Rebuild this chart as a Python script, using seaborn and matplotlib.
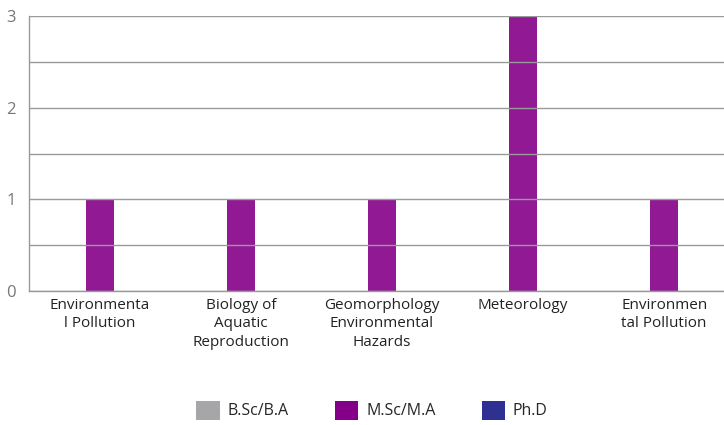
import matplotlib
matplotlib.use("Agg")
import matplotlib.pyplot as plt
import pandas as pd
import seaborn as sns
from matplotlib.patches import Patch

categories = [
    "Environmenta\nl Pollution",
    "Biology of\nAquatic\nReproduction",
    "Geomorphology\nEnvironmental\nHazards",
    "Meteorology",
    "Environmen\ntal Pollution",
]
degrees = ["B.Sc/B.A", "M.Sc/M.A", "Ph.D"]
bsc_values = [0, 0, 0, 0, 0]
msc_values = [1, 1, 1, 3, 1]
phd_values = [0, 0, 0, 0, 0]
colors = ["#a6a6a8", "#850088", "#2e3192"]

sns.set_theme(style="white")
plt.rcParams["font.family"] = ["Open Sans", "DejaVu Sans"]

df = pd.DataFrame({
    "category": categories * 3,
    "degree": [d for d in degrees for _ in categories],
    "count": bsc_values + msc_values + phd_values,
})

fig = plt.figure(figsize=(7.24, 4.25), dpi=100)
ax = fig.add_axes([0.0407, 0.3153, 0.974, 0.647])

sns.barplot(data=df, x="category", y="count", hue="degree", hue_order=degrees,
            palette=colors, saturation=1, width=0.58, alpha=0.9, linewidth=0,
            ax=ax, legend=False)

ax.set_xlim(-0.5, 4.5)
ax.set_ylim(0, 3)
ax.set_yticks([0, 0.5, 1, 1.5, 2, 2.5, 3])
ax.set_yticklabels(["0", "", "1", "", "2", "", "3"])
ax.grid(axis="y", color="#999999", linewidth=1)
ax.set_axisbelow(False)
for line in ax.get_ygridlines():
    line.set_zorder(0.5)
for s in ["top", "right"]:
    ax.spines[s].set_visible(False)
for s in ["left", "bottom"]:
    ax.spines[s].set_color("#999999")
    ax.spines[s].set_linewidth(1)
ax.set_xlabel("")
ax.set_ylabel("")
ax.tick_params(axis="y", length=0, labelsize=12, labelcolor="#777777", pad=10)
ax.tick_params(axis="x", length=0, labelsize=11, labelcolor="#222222", pad=5)
for lab in ax.get_xticklabels():
    lab.set_linespacing(1.3)

handles = [Patch(facecolor=c, edgecolor="none") for c in colors]
fig.legend(handles, degrees, loc="center", bbox_to_anchor=(0.514, 0.035), ncol=3,
           frameon=False, fontsize=11.5, handlelength=1.45, handleheight=1.45,
           columnspacing=2.9, handletextpad=0.5)

fig.savefig("out.png", dpi=100)
